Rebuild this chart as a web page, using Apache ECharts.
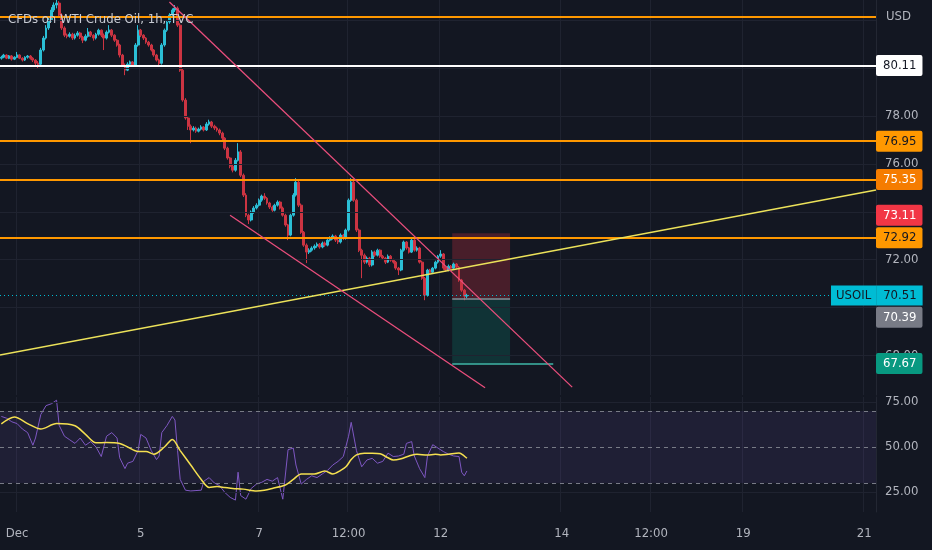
<!DOCTYPE html>
<html>
<head>
<meta charset="utf-8">
<title>CFDs on WTI Crude Oil, 1h, TVC</title>
<script src="https://cdn.jsdelivr.net/npm/echarts@6.0.0/dist/echarts.min.js"></script>
<style>
  html, body { margin: 0; padding: 0; background: #131722; }
  #chart { width: 932px; height: 550px; }
</style>
</head>
<body>
<div id="chart"></div>
<script>
// bar slots on the time scale (history + empty future space)
const barCount = 333;
const tickIdx = [6, 53, 98, 132, 167, 213, 247, 282, 328];
const tickText = ['Dec', '5', '7', '12:00', '12', '14', '12:00', '19', '21'];

// hourly candles: [open, close, low, high]
const candles = [
  [80.42, 80.46, 80.36, 80.52], [80.46, 80.55, 80.42, 80.60], [80.55, 80.42, 80.38, 80.58], [80.42, 80.51, 80.38, 80.55],
  [80.51, 80.38, 80.32, 80.55], [80.38, 80.46, 80.34, 80.50], [80.46, 80.55, 80.42, 80.68], [80.55, 80.42, 80.38, 80.58],
  [80.42, 80.34, 80.28, 80.46], [80.34, 80.46, 80.30, 80.50], [80.46, 80.51, 80.40, 80.55], [80.51, 80.42, 80.36, 80.55],
  [80.42, 80.34, 80.26, 80.46], [80.34, 80.21, 80.10, 80.38], [80.21, 80.17, 80.00, 80.30], [80.17, 80.76, 80.12, 80.85],
  [80.76, 81.26, 80.70, 81.35], [81.26, 81.68, 81.20, 81.80], [81.68, 82.01, 81.60, 82.10], [82.01, 82.43, 81.95, 82.55],
  [82.43, 82.64, 82.35, 82.75], [82.64, 82.72, 82.50, 82.85], [82.72, 82.22, 82.15, 82.80], [82.22, 81.68, 81.60, 82.30],
  [81.68, 81.38, 81.30, 81.75], [81.38, 81.34, 81.25, 81.45], [81.34, 81.42, 81.28, 81.50], [81.42, 81.26, 81.18, 81.48],
  [81.26, 81.38, 81.20, 81.45], [81.38, 81.47, 81.32, 81.55], [81.47, 81.30, 81.22, 81.52], [81.30, 81.17, 81.05, 81.35],
  [81.17, 81.34, 81.12, 81.42], [81.34, 81.51, 81.28, 81.68], [81.51, 81.38, 81.30, 81.56], [81.38, 81.26, 81.15, 81.42],
  [81.26, 81.42, 81.20, 81.48], [81.42, 81.59, 81.36, 81.65], [81.59, 81.38, 81.30, 81.62], [81.38, 81.26, 80.76, 81.45],
  [81.26, 81.51, 81.20, 81.58], [81.51, 81.59, 81.45, 81.80], [81.59, 81.38, 81.30, 81.64], [81.38, 81.17, 81.10, 81.42],
  [81.17, 80.97, 80.90, 81.22], [80.97, 80.55, 80.45, 81.02], [80.55, 80.13, 80.05, 80.60], [80.13, 79.92, 79.71, 80.20],
  [79.92, 80.17, 79.88, 80.25], [80.17, 80.26, 80.10, 80.32], [80.26, 80.13, 80.05, 80.30], [80.13, 80.97, 80.08, 81.05],
  [80.97, 81.59, 80.90, 81.80], [81.59, 81.38, 81.30, 81.64], [81.38, 81.26, 81.18, 81.42], [81.26, 81.09, 81.02, 81.30],
  [81.09, 80.97, 80.90, 81.14], [80.97, 80.76, 80.70, 81.02], [80.76, 80.55, 80.48, 80.80], [80.55, 80.34, 80.28, 80.60],
  [80.34, 80.21, 80.05, 80.40], [80.21, 80.97, 80.15, 81.05], [80.97, 81.59, 80.90, 81.66], [81.59, 81.93, 81.52, 82.00],
  [81.93, 82.22, 81.86, 82.30], [82.22, 82.43, 82.15, 82.50], [82.43, 82.51, 82.35, 82.64], [82.51, 81.80, 81.72, 82.58],
  [81.80, 79.92, 79.85, 81.88], [79.92, 78.67, 78.60, 80.00], [78.67, 77.92, 77.85, 78.75], [77.92, 77.58, 77.42, 78.00],
  [77.58, 77.42, 76.87, 77.65], [77.42, 77.50, 77.36, 77.58], [77.50, 77.37, 77.30, 77.56], [77.37, 77.46, 77.32, 77.52],
  [77.46, 77.54, 77.40, 77.62], [77.54, 77.42, 77.36, 77.58], [77.42, 77.67, 77.38, 77.75], [77.67, 77.75, 77.60, 77.85],
  [77.75, 77.58, 77.50, 77.80], [77.58, 77.50, 77.42, 77.64], [77.50, 77.42, 77.35, 77.56], [77.42, 77.29, 77.20, 77.48],
  [77.29, 77.08, 77.00, 77.35], [77.08, 76.66, 76.58, 77.12], [76.66, 76.25, 76.18, 76.72], [76.25, 75.91, 75.82, 76.30],
  [75.91, 75.74, 75.65, 75.98], [75.74, 76.16, 75.68, 76.25], [76.16, 76.50, 76.10, 76.87], [76.50, 75.53, 75.45, 76.58],
  [75.53, 74.70, 74.62, 75.60], [74.70, 73.86, 73.78, 74.78], [73.86, 73.66, 73.49, 73.92], [73.66, 73.99, 73.60, 74.06],
  [73.99, 74.16, 73.92, 74.24], [74.16, 74.28, 74.10, 74.36], [74.28, 74.49, 74.22, 74.56], [74.49, 74.66, 74.42, 74.72],
  [74.66, 74.57, 74.50, 74.78], [74.57, 74.37, 74.30, 74.62], [74.37, 74.20, 74.12, 74.42], [74.20, 74.07, 74.00, 74.26],
  [74.07, 74.28, 74.02, 74.34], [74.28, 74.41, 74.22, 74.48], [74.41, 74.16, 74.10, 74.46], [74.16, 73.86, 73.80, 74.22],
  [73.86, 73.45, 73.38, 73.92], [73.45, 73.03, 72.82, 73.50], [73.03, 73.86, 72.98, 73.92], [73.86, 74.70, 73.80, 74.78],
  [74.70, 75.24, 74.64, 75.41], [75.24, 74.28, 74.20, 75.30], [74.28, 73.15, 73.08, 74.35], [73.15, 72.61, 72.54, 73.20],
  [72.61, 72.32, 71.86, 72.68], [72.32, 72.40, 72.24, 72.48], [72.40, 72.49, 72.34, 72.56], [72.49, 72.57, 72.42, 72.64],
  [72.57, 72.65, 72.50, 72.72], [72.65, 72.53, 72.46, 72.70], [72.53, 72.70, 72.48, 72.76], [72.70, 72.61, 72.54, 72.76],
  [72.61, 72.82, 72.56, 72.88], [72.82, 72.90, 72.76, 72.98], [72.90, 72.99, 72.84, 73.06], [72.99, 72.82, 72.74, 73.04],
  [72.82, 72.74, 72.66, 72.88], [72.74, 73.03, 72.68, 73.10], [73.03, 72.90, 72.82, 73.08], [72.90, 73.24, 72.84, 73.30],
  [73.24, 74.49, 73.18, 74.56], [74.49, 75.24, 74.42, 75.41], [75.24, 74.49, 74.42, 75.30], [74.49, 73.24, 73.16, 74.55],
  [73.24, 72.40, 72.32, 73.30], [72.40, 72.19, 71.23, 72.46], [72.19, 71.90, 71.82, 72.26], [71.90, 72.07, 71.84, 72.14],
  [72.07, 71.78, 71.70, 72.12], [71.78, 72.32, 71.72, 72.40], [72.32, 72.19, 72.12, 72.38], [72.19, 72.40, 72.14, 72.46],
  [72.40, 72.15, 72.08, 72.44], [72.15, 72.07, 72.00, 72.20], [72.07, 71.90, 71.82, 72.12], [71.90, 72.15, 71.86, 72.22],
  [72.15, 71.98, 71.92, 72.20], [71.98, 71.90, 71.84, 72.04], [71.90, 71.65, 71.58, 71.95], [71.65, 71.57, 71.36, 71.70],
  [71.57, 72.40, 71.52, 72.46], [72.40, 72.74, 72.34, 72.80], [72.74, 72.49, 72.42, 72.78], [72.49, 72.32, 72.26, 72.54],
  [72.32, 72.82, 72.28, 72.95], [72.82, 72.40, 72.34, 72.86], [72.40, 72.49, 72.34, 72.56], [72.49, 71.90, 71.84, 72.54],
  [71.90, 71.23, 71.16, 71.96], [71.23, 70.52, 70.31, 71.28], [70.52, 71.57, 70.46, 71.62], [71.57, 71.48, 71.40, 71.62],
  [71.48, 71.65, 71.42, 71.70], [71.65, 71.90, 71.60, 71.96], [71.90, 72.15, 71.84, 72.20], [72.15, 72.24, 72.08, 72.40],
  [72.24, 71.65, 71.58, 72.28], [71.65, 71.57, 71.50, 71.70], [71.57, 71.73, 71.52, 71.80], [71.73, 71.65, 71.58, 71.78],
  [71.65, 71.82, 71.60, 71.88], [71.82, 71.69, 71.62, 71.86], [71.69, 71.15, 71.08, 71.74], [71.15, 70.73, 70.66, 71.20],
  [70.73, 70.48, 70.31, 70.78], [70.48, 70.51, 70.40, 70.58]
];

// RSI(14) and its moving average: [bar, value]
const rsiValues = [
  [0, 67], [2, 66], [4, 64], [6, 63], [8, 60], [10, 58], [12, 51], [13, 55], [15, 68], [17, 73], [19, 74], [21, 76],
  [22, 62], [24, 56], [26, 54], [28, 52], [30, 55], [32, 51], [34, 53], [36, 50], [38, 44.7], [40, 56], [42, 58],
  [44, 55], [45, 44], [47, 38], [48, 41], [50, 42], [52, 48], [53, 57], [55, 55], [57, 48], [59, 43], [60, 45],
  [61, 58], [63, 62], [65, 67], [66, 65], [67, 48], [68, 32], [70, 26], [72, 25.6], [74, 25.8], [76, 26], [77, 31],
  [79, 33], [81, 30], [83, 28.5], [85, 24.7], [87, 22], [89, 20.5], [90, 36], [91, 23], [93, 21], [95, 27], [97, 29.4],
  [99, 30.4], [101, 32], [103, 31], [105, 33], [107, 21], [109, 48.5], [111, 49.4], [112, 40], [114, 29.4], [116, 32],
  [118, 34], [120, 33], [122, 35], [124, 37], [126, 40], [128, 42], [130, 44.7], [132, 56], [133, 63.7], [135, 48],
  [137, 39], [139, 42.8], [141, 43.7], [143, 41], [145, 42], [147, 46.6], [149, 44.7], [151, 45], [153, 46], [154, 52],
  [156, 53], [157, 45], [159, 38], [161, 33], [162, 45], [164, 51.3], [166, 49.4], [168, 47.5], [170, 46], [172, 45],
  [174, 44.7], [175, 36], [176, 34], [177, 36.7]
];
const rsiMa = [
  [0, 62.8], [5, 66.6], [10, 63], [15, 60], [21, 63], [28, 61.8], [32, 57], [36, 52.3], [40, 52.5], [45, 52], [48, 50],
  [52, 47.5], [55, 47.5], [58, 46], [62, 50], [65, 54.2], [68, 48], [72, 40], [76, 32], [79, 27.5], [82, 28], [85, 27.5],
  [88, 27], [92, 26.6], [97, 25.6], [100, 26], [103, 27], [108, 28.9], [111, 32], [114, 35], [119, 35], [123, 36.7],
  [126, 35], [129, 37], [131, 39], [133, 43], [135, 45.6], [138, 46.5], [141, 46.5], [144, 46.2], [147, 44], [149, 42.8],
  [152, 43.5], [155, 45], [158, 46], [162, 45.5], [165, 46], [167, 45.6], [170, 46], [174, 46.6], [176, 45], [177, 43.7]
];

const priceTicks = [68, 70, 72, 74, 76, 78, 80, 82];
const priceLabels = [68, 72, 76, 78];
const rsiLabels = [25, 50, 75];
const rsiLevels = [70, 50, 30];

// drawings: horizontal rays, trend lines, short position
const levelPrices = [82.14, 80.11, 76.95, 75.35, 72.92];
const trendYellow = [[-0.5, 68.02], [332.5, 74.91]];
const channelUpper = [[63.9, 82.77], [217.0, 66.68]];
const channelLower = [[86.95, 73.86], [183.9, 66.65]];
const posBars = [171.4, 193.4];
const posTargetEnd = 209.8;
const posStop = 73.11;
const posEntry = 70.39;
const posTarget = 67.67;

const FONT = '"Liberation Sans Narrow", "DejaVu Sans Condensed", sans-serif';
const TXT = '#b2b5be';
const GRIDC = '#1f2330';
const HIDDEN = 'rgba(0,0,0,0)';
const lastClose = candles[candles.length - 1][1];
const categories = Array.from({ length: barCount }, (_, i) => String(i));

const levelStyle = [
  { line: '#ff9800' },
  { line: '#ffffff', bg: '#ffffff', fg: '#131722' },
  { line: '#ff9800', bg: '#ff9800', fg: '#131722' },
  { line: '#ff9800', bg: '#f57c00', fg: '#ffffff' },
  { line: '#ff9800', bg: '#ff9800', fg: '#131722' }
];

function tag(bg, fg, extra) {
  return Object.assign({
    show: true, position: 'end', distance: 0,
    formatter: p => Number(p.value).toFixed(2),
    backgroundColor: bg, color: fg, padding: [4, 6, 3, 7],
    fontSize: 13, lineHeight: 14, fontFamily: FONT, borderRadius: 2
  }, extra || {});
}

const onTick = i => tickIdx.indexOf(i) >= 0;

const levelLines = levelPrices.map((p, i) => ({
  yAxis: p,
  lineStyle: { color: levelStyle[i].line, width: 2, type: 'solid' },
  label: levelStyle[i].bg ? tag(levelStyle[i].bg, levelStyle[i].fg) : { show: false }
}));

const chart = echarts.init(document.getElementById('chart'));

chart.setOption({
  backgroundColor: '#131722',
  animation: false,
  title: {
    text: 'CFDs on WTI Crude Oil, 1h, TVC',
    left: 8, top: 13, padding: 0,
    textStyle: { color: '#c9ccd4', fontSize: 13, fontWeight: 'normal', fontFamily: FONT }
  },
  graphic: [{
    type: 'text', left: 886, top: 10,
    style: { text: 'USD', fill: TXT, font: '13px ' + FONT }
  }],
  grid: [
    { left: 0, right: 56, top: 0, height: 395 },
    { left: 0, right: 56, top: 397, height: 115 }
  ],
  xAxis: [
    {
      type: 'category', gridIndex: 0, data: categories,
      axisLine: { show: false }, axisTick: { show: false }, axisLabel: { show: false },
      splitLine: { show: true, interval: onTick, lineStyle: { color: GRIDC } }
    },
    {
      type: 'category', gridIndex: 1, data: categories,
      axisLine: { show: false }, axisTick: { show: false },
      axisLabel: {
        interval: onTick, margin: 15, color: TXT, fontSize: 13, fontFamily: FONT,
        formatter: (v, i) => tickText[tickIdx.indexOf(i)]
      },
      splitLine: { show: true, interval: onTick, lineStyle: { color: GRIDC } }
    },
    { type: 'value', gridIndex: 0, min: -0.5, max: barCount - 0.5, show: false }
  ],
  yAxis: [
    {
      type: 'value', gridIndex: 0, position: 'right', min: 66.35, max: 82.85,
      splitLine: { show: false }, axisTick: { show: false },
      axisLine: { show: true, onZero: false, lineStyle: { color: '#232733' } },
      axisLabel: { customValues: priceLabels, formatter: v => v.toFixed(2), color: TXT, fontSize: 13, fontFamily: FONT, margin: 9 }
    },
    {
      type: 'value', gridIndex: 1, position: 'right', min: 13.89, max: 77.78,
      splitLine: { show: false }, axisTick: { show: false },
      axisLine: { show: true, onZero: false, lineStyle: { color: '#232733' } },
      axisLabel: { customValues: rsiLabels, formatter: v => v.toFixed(2), color: TXT, fontSize: 13, fontFamily: FONT, margin: 9 }
    }
  ],
  series: [
    {
      name: 'grid', type: 'line', xAxisIndex: 2, yAxisIndex: 0, data: [], z: 1,
      markLine: {
        silent: true, symbol: 'none', label: { show: false },
        lineStyle: { color: GRIDC, width: 1, type: 'solid' },
        data: priceTicks.map(v => ({ yAxis: v }))
      }
    },
    {
      name: 'USOIL', type: 'candlestick', xAxisIndex: 0, yAxisIndex: 0, data: candles, z: 3,
      barWidth: 2.4,
      itemStyle: { color: '#2bbfd6', color0: '#cc3442', borderColor: '#2bbfd6', borderColor0: '#cc3442', borderWidth: 1 }
    },
    {
      name: 'trend', type: 'line', xAxisIndex: 2, yAxisIndex: 0, data: trendYellow, z: 5,
      symbol: 'none', lineStyle: { color: '#ece25a', width: 1.5 }
    },
    {
      name: 'channel top', type: 'line', xAxisIndex: 2, yAxisIndex: 0, data: channelUpper, z: 5,
      symbol: 'none', lineStyle: { color: '#ea4e7c', width: 1.3 }
    },
    {
      name: 'channel bottom', type: 'line', xAxisIndex: 2, yAxisIndex: 0, data: channelLower, z: 5,
      symbol: 'none', lineStyle: { color: '#ea4e7c', width: 1.3 }
    },
    {
      name: 'drawings', type: 'line', xAxisIndex: 2, yAxisIndex: 0, data: [], z: 6,
      markArea: {
        silent: true,
        data: [
          [{ coord: [posBars[0], posStop], itemStyle: { color: 'rgba(242,54,69,0.24)' } }, { coord: [posBars[1], posEntry] }],
          [{ coord: [posBars[0], posEntry], itemStyle: { color: 'rgba(8,153,129,0.22)' } }, { coord: [posBars[1], posTarget] }]
        ]
      },
      markLine: {
        silent: true, symbol: 'none',
        data: levelLines.concat([
          {
            yAxis: lastClose,
            lineStyle: { color: '#00bcd4', width: 1, type: [1, 3] },
            label: {
              show: true, position: 'end', distance: 0, offset: [-45, 0],
              formatter: p => '{a|USOIL}{b|' + Number(p.value).toFixed(2) + '}',
              rich: {
                a: { backgroundColor: '#00bcd4', color: '#131722', padding: [4, 5, 3, 5], fontSize: 13, lineHeight: 14, fontFamily: FONT },
                b: { backgroundColor: '#00bcd4', color: '#131722', padding: [4, 6, 3, 7], fontSize: 13, lineHeight: 14, fontFamily: FONT }
              }
            }
          },
          { yAxis: posStop, lineStyle: { color: HIDDEN }, label: tag('#f23645', '#ffffff', { offset: [0, -18] }) },
          { yAxis: posEntry, lineStyle: { color: HIDDEN }, label: tag('#787b86', '#ffffff', { offset: [0, 19] }) },
          { yAxis: posTarget, lineStyle: { color: HIDDEN }, label: tag('#089981', '#ffffff') },
          [
            { coord: [posBars[0], posEntry], lineStyle: { color: '#8a8d96', width: 1.5, type: 'solid' }, label: { show: false } },
            { coord: [posBars[1], posEntry] }
          ],
          [
            { coord: [posBars[0], posTarget], lineStyle: { color: '#3fb9a8', width: 1.5, type: 'solid' }, label: { show: false } },
            { coord: [posTargetEnd, posTarget] }
          ]
        ])
      }
    },
    {
      name: 'RSI', type: 'line', xAxisIndex: 1, yAxisIndex: 1, data: rsiValues, z: 4,
      symbol: 'none', lineStyle: { color: '#7e57c2', width: 1 },
      markArea: {
        silent: true, itemStyle: { color: 'rgba(126,87,194,0.12)' },
        data: [[{ yAxis: rsiLevels[2] }, { yAxis: rsiLevels[0] }]]
      },
      markLine: {
        silent: true, symbol: 'none', label: { show: false },
        data: rsiLevels.map(v => ({ yAxis: v, lineStyle: { color: '#787b86', width: 1, type: [4, 4] } }))
          .concat([25, 75].map(v => ({ yAxis: v, lineStyle: { color: GRIDC, width: 1, type: 'solid' } })))
      }
    },
    {
      name: 'RSI MA', type: 'line', xAxisIndex: 1, yAxisIndex: 1, data: rsiMa, z: 5,
      symbol: 'none', smooth: 0.3, lineStyle: { color: '#f5e050', width: 1.5 }
    }
  ]
});
</script>
</body>
</html>
